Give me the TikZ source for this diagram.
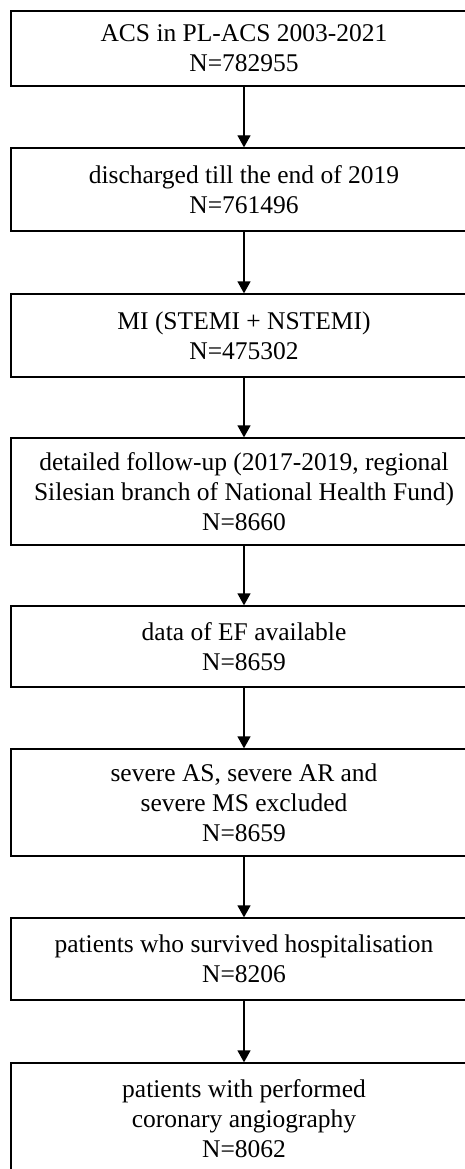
\documentclass[tikz,border=0pt]{standalone}
\usepackage{fontspec}
\setmainfont{Liberation Serif}
\usetikzlibrary{arrows.meta}
\newcommand\boxfont{\fontsize{25.5}{30}\selectfont}
\begin{document}
\begin{tikzpicture}[x=1pt,y=-1pt,
  box/.style={draw, line width=1.3pt, minimum width=466pt, align=center, inner sep=0pt, font=\boxfont},
  arr/.style={-{Triangle[length=12pt,width=13pt]}, line width=1.3pt}]
\fill[white] (0,0) rectangle (464,1169);
\useasboundingbox (0,0) rectangle (464,1169);
\node[box, minimum height=75pt] (b1) at (244,48.5) {ACS in PL-ACS 2003-2021\\N=782955};
\node[box, minimum height=83pt] (b2) at (244,189.5) {discharged till the end of 2019\\N=761496};
\node[box, minimum height=83pt] (b3) at (244,335.5) {MI (STEMI + NSTEMI)\\N=475302};
\node[box, minimum height=107pt] (b4) at (244,491.5) {detailed follow-up (2017-2019, regional\\Silesian branch of National Health Fund)\\N=8660};
\node[box, minimum height=81pt] (b5) at (244,646.5) {data of EF available\\N=8659};
\node[box, minimum height=107pt] (b6) at (244,802.5) {severe AS, severe AR and\\severe MS excluded\\N=8659};
\node[box, minimum height=82pt] (b7) at (244,959) {patients who survived hospitalisation\\N=8206};
\node[box, minimum height=112pt] (b8) at (244,1119) {patients with performed\\coronary angiography\\N=8062};
\draw[arr] (b1) -- (b2);
\draw[arr] (b2) -- (b3);
\draw[arr] (b3) -- (b4);
\draw[arr] (b4) -- (b5);
\draw[arr] (b5) -- (b6);
\draw[arr] (b6) -- (b7);
\draw[arr] (b7) -- (b8);
\end{tikzpicture}
\end{document}
